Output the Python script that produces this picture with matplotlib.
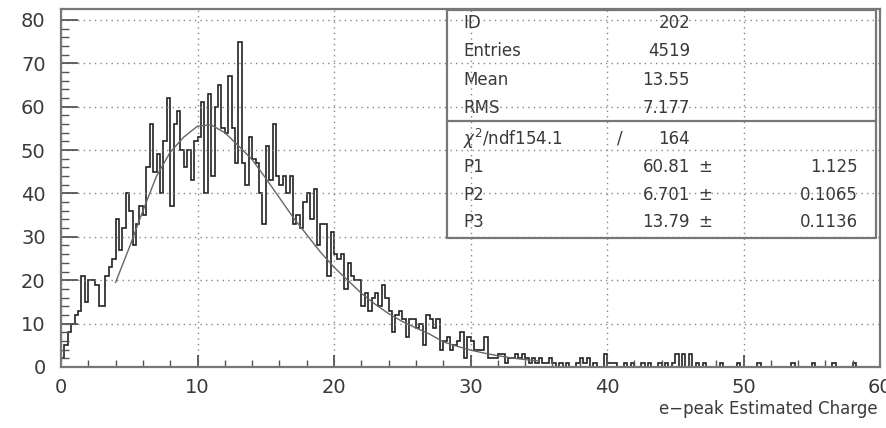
import numpy as np
import matplotlib
matplotlib.use("Agg")
import matplotlib.pyplot as plt

# bin contents, 240 bins of width 0.25 over 0..60
counts = [
    2, 5, 8, 10,  12, 13, 21, 15,  20, 20, 19, 14,  14, 21, 23, 25,      # 0-4
    34, 27, 32, 40,  36, 28, 33, 37,  35, 46, 56, 45,  49, 40, 52, 62,   # 4-8
    37, 56, 59, 50,  46, 50, 43, 52,  53, 61, 40, 63,  44, 60, 65, 55,   # 8-12
    54, 67, 55, 47,  75, 47, 42, 53,  48, 47, 40, 33,  51, 43, 56, 44,   # 12-16
    42, 44, 40, 44,  33, 35, 32, 38,  40, 34, 41, 28,  33, 33, 21, 31,   # 16-20
    26, 25, 26, 18,  24, 21, 20, 20,  14, 17, 13, 16,  17, 14, 19, 16,   # 20-24
    13, 8, 12, 13,  11, 7, 11, 11,  9, 10, 5, 12,  11, 9, 11, 4,         # 24-28
    6, 7, 4, 5,  6, 8, 2, 7,  6, 4, 4, 4,  7, 2, 2, 2,                   # 28-32
    3, 3, 1, 2,  2, 3, 2, 3,  2, 1, 2, 1,  2, 1, 1, 2,                   # 32-36
    1, 0, 1, 0,  1, 0, 0, 1,  2, 1, 2, 0,  1, 0, 0, 3,                   # 36-40
    1, 1, 1, 0,  0, 1, 0, 1,  0, 0, 1, 0,  1, 0, 0, 1,                   # 40-44
    0, 1, 0, 1,  3, 0, 3, 0,  3, 0, 1, 0,  1, 0, 0, 0,                   # 44-48
    0, 1, 0, 0,  0, 0, 1, 0,  0, 0, 0, 0,  1, 0, 0, 0,                   # 48-52
    0, 0, 0, 0,  0, 0, 1, 0,  0, 0, 0, 0,  1, 0, 0, 0,                   # 52-56
    0, 0, 1, 0,  0, 0, 0, 0,  1, 0, 0, 0,  0, 0, 0, 0,                   # 56-60
]
bin_edges = np.linspace(0, 60, len(counts) + 1)

# fitted curve, points
fit_x = [4, 5, 6, 7, 8, 9, 10, 11, 12, 13, 14, 15, 16, 17, 18, 19, 20,
         21, 22, 23, 24, 25, 26, 27, 28, 29, 30, 31, 32, 33, 34, 35]
fit_y = [19.5, 27.5, 36, 44, 49.5, 53, 55.5, 55.8, 54, 51, 47.8, 43.5, 39,
         34.5, 30.5, 26.5, 23, 20, 17, 14.5, 12.3, 10.5, 9, 7.6, 5.8, 4.8,
         3.9, 3.2, 2.6, 2.1, 1.7, 1.4]

# statistics box
stat_labels = ["ID", "Entries", "Mean", "RMS"]
stat_values = ["202", "4519", "13.55", "7.177"]
par_labels = ["P1", "P2", "P3"]
par_values = ["60.81", "6.701", "13.79"]
par_errors = ["1.125", "0.1065", "0.1136"]
chi2_text = "$\\chi^2$/ndf154.1"
ndf_text = "164"

W, H = 886, 428
fig = plt.figure(figsize=(W / 100, H / 100), dpi=100)
ax = fig.add_axes([61 / W, 1 - 367 / H, (880 - 61) / W, (367 - 9) / H])

ax.stairs(counts, bin_edges, color="#222222", lw=1.2, baseline=0)
ax.plot(fit_x, fit_y, color="#666666", lw=1.0)

ax.set_xlim(0, 60)
ax.set_ylim(0, 82.5)
ax.set_xticks(np.arange(0, 61, 10))
ax.set_yticks(np.arange(0, 81, 10))
ax.set_xticks(np.arange(0, 61, 2), minor=True)
ax.set_yticks(np.arange(0, 81, 2), minor=True)
ax.grid(True, which="major", color="#888888", linestyle=(0, (1, 3)), lw=1)
ax.tick_params(which="both", direction="in", color="#555555")
ax.tick_params(which="major", width=1.3, labelsize=14, labelcolor="#3a3a3a")
ax.tick_params(which="minor", width=1)
ax.tick_params(axis="y", which="major", length=12, pad=11)
ax.tick_params(axis="y", which="minor", length=6)
ax.tick_params(axis="x", which="major", length=9, pad=8)
ax.tick_params(axis="x", which="minor", length=5)
for s in ax.spines.values():
    s.set_color("#777777")
    s.set_linewidth(1.6)

# stats box (pixel coords -> axes coords)
def to_ax(px, py):
    return (px - 61) / (880 - 61), (367 - py) / (367 - 9)

bx0, by0 = to_ax(447, 238)
bx1, by1 = to_ax(876, 10)
ax.add_patch(plt.Rectangle((bx0, by0), bx1 - bx0, by1 - by0,
                           transform=ax.transAxes, fill=False,
                           edgecolor="#777777", lw=1.6, zorder=5))
dx0, dy = to_ax(447, 121)
ax.plot([bx0, bx1], [dy, dy], transform=ax.transAxes,
        color="#777777", lw=1.6, zorder=5)

fs = 12
tc = "#3a3a3a"
rows_top = [23, 51, 80, 108]
for lab, val, py in zip(stat_labels, stat_values, rows_top):
    x, y = to_ax(463, py)
    ax.text(x, y, lab, transform=ax.transAxes, fontsize=fs, color=tc,
            va="center", ha="left")
    x, y = to_ax(690, py)
    ax.text(x, y, val, transform=ax.transAxes, fontsize=fs, color=tc,
            va="center", ha="right")

x, y = to_ax(463, 139)
ax.text(x, y, chi2_text, transform=ax.transAxes, fontsize=fs, color=tc,
        va="center", ha="left")
x, y = to_ax(620, 139)
ax.text(x, y, "/", transform=ax.transAxes, fontsize=fs, color=tc,
        va="center", ha="center")
x, y = to_ax(690, 139)
ax.text(x, y, ndf_text, transform=ax.transAxes, fontsize=fs, color=tc,
        va="center", ha="right")

rows_bot = [167, 195, 222]
for lab, val, err, py in zip(par_labels, par_values, par_errors, rows_bot):
    x, y = to_ax(463, py)
    ax.text(x, y, lab, transform=ax.transAxes, fontsize=fs, color=tc,
            va="center", ha="left")
    x, y = to_ax(690, py)
    ax.text(x, y, val, transform=ax.transAxes, fontsize=fs, color=tc,
            va="center", ha="right")
    x, y = to_ax(705, py)
    ax.text(x, y, "\u00b1", transform=ax.transAxes, fontsize=fs, color=tc,
            va="center", ha="center")
    x, y = to_ax(858, py)
    ax.text(x, y, err, transform=ax.transAxes, fontsize=fs, color=tc,
            va="center", ha="right")

fig.text(878 / W, 1 - 409 / H, "e\u2212peak Estimated Charge", fontsize=12,
         color=tc, ha="right", va="center")

fig.savefig("out.png", dpi=100)
